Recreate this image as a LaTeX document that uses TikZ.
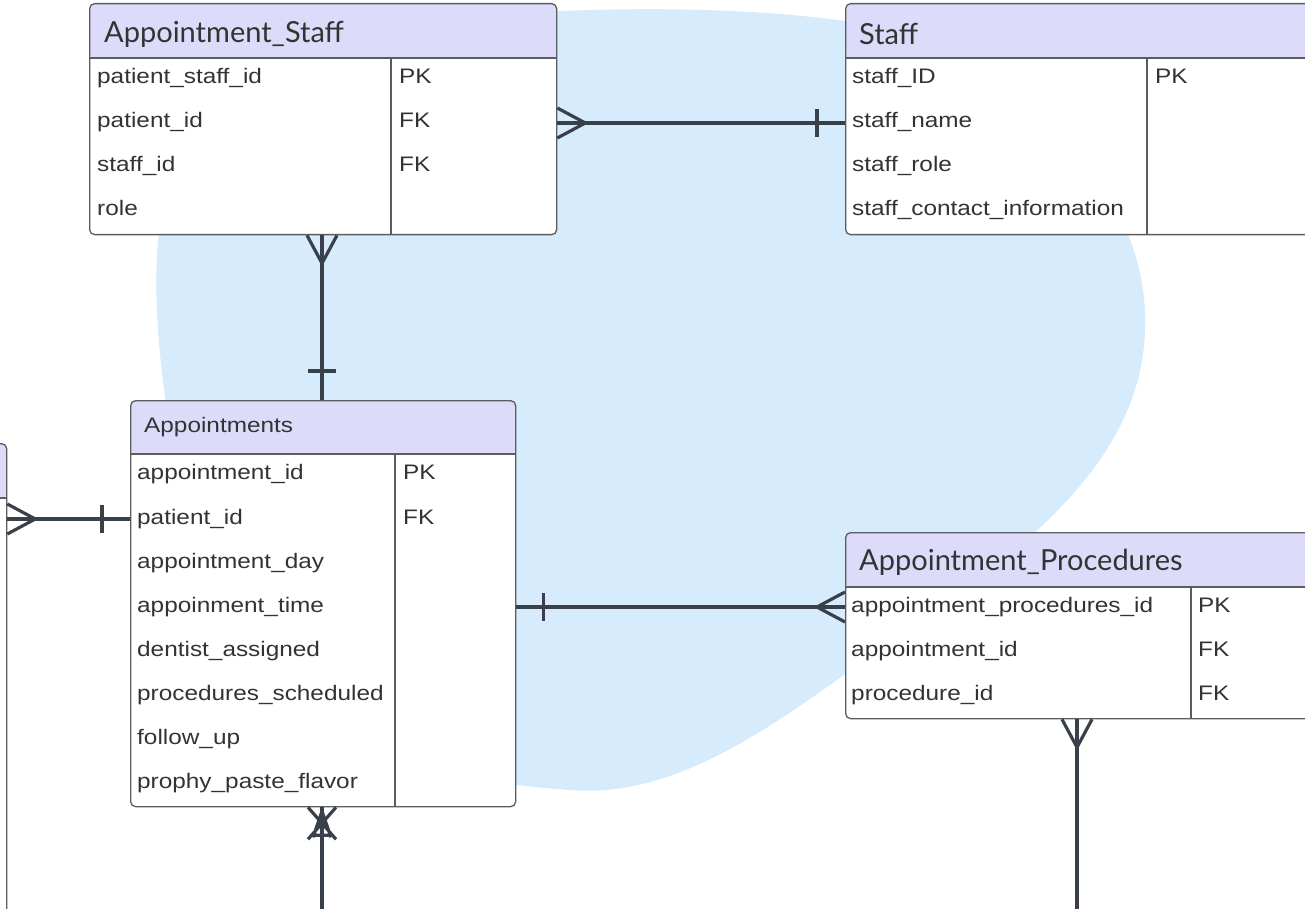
\documentclass[tikz,border=0pt]{standalone}
\usepackage{fontspec}
\setmainfont{Liberation Sans}[FakeStretch=1.16]
\newfontfamily\titlefont{Lato}
\usepackage{xcolor}
\usetikzlibrary{positioning,calc}

\definecolor{hdrfill}{HTML}{DCDCFA}
\definecolor{blobblue}{HTML}{D6EBFC}
\definecolor{connline}{HTML}{394049}
\definecolor{tblline}{HTML}{5C5C5C}
\definecolor{txtgray}{HTML}{333333}

\begin{document}
\begin{tikzpicture}[
    x=1pt, y=-1pt,
    tbl/.style={rectangle, draw=tblline, line width=1.3pt, rounded corners=5pt, fill=white, anchor=north west, inner sep=0pt,
        path picture={\fill[hdrfill] (path picture bounding box.north west) rectangle ([yshift=-#1]path picture bounding box.north east);}},
    tblline/.style={draw=tblline, line width=1.3pt},
    title/.style={anchor=west, inner sep=0pt, text=txtgray, font=\titlefont\fontsize{29}{34}\selectfont},
    field/.style={anchor=west, inner sep=0pt, text=txtgray, text height=15pt, text depth=4pt, font=\fontsize{21}{25}\selectfont},
    conn/.style={draw=connline, line width=3.2pt},
    many/.pic={\draw[conn] (0,-15) -- (28,0) -- (0,15);},
    one/.pic={\draw[conn] (0,-14) -- (0,14);},
    oneormany/.pic={\draw[conn] (-14,0) -- (14,32) (14,0) -- (-14,32) (-10,28) -- (10,28) (0,4) -- (-9,30) (0,4) -- (9,30);}
]
\useasboundingbox (0,0) rectangle (1305,909);
\clip (0,0) rectangle (1305,909);

% background blob
\fill[blobblue] (540,12) .. controls (700,4) and (820,14) .. (900,30)
    .. controls (1040,80) and (1150,200) .. (1145,330)
    .. controls (1142,450) and (1040,540) .. (920,620)
    .. controls (800,705) and (690,800) .. (570,790)
    .. controls (420,780) and (300,740) .. (230,620)
    .. controls (170,500) and (150,330) .. (158,240)
    .. controls (170,120) and (330,25) .. (540,12) -- cycle;

% Appointment_Staff
\node[tbl=55pt, minimum width=467pt, minimum height=231pt] (as) at (89,3) {};
\draw[tblline] ([yshift=-55pt]as.north west) -- ([yshift=-55pt]as.north east);
\draw[tblline] ([shift={(302pt,-55pt)}]as.north west) -- ([xshift=302pt]as.south west);
\node[title] (ast) at (104,34) {Appointment\_Staff};
\node[field] (asr1) at (97,78) {patient\_staff\_id};
\node[field] (asr2) at (97,122) {patient\_id};
\node[field] (asr3) at (97,166) {staff\_id};
\node[field] (asr4) at (97,210) {role};
\node[field] (ask1) at (399,78) {PK};
\node[field] (ask2) at (399,122) {FK};
\node[field] (ask3) at (399,166) {FK};

% Staff
\node[tbl=55pt, minimum width=500pt, minimum height=231pt] (stf) at (845,3) {};
\draw[tblline] ([yshift=-55pt]stf.north west) -- ([yshift=-55pt]stf.north east);
\draw[tblline] ([shift={(302pt,-55pt)}]stf.north west) -- ([xshift=302pt]stf.south west);
\node[title] (stft) at (859,34) {Staff};
\node[field] (stfr1) at (852,78) {staff\_ID};
\node[field] (stfr2) at (852,122) {staff\_name};
\node[field] (stfr3) at (852,166) {staff\_role};
\node[field] (stfr4) at (852,210) {staff\_contact\_information};
\node[field] (stfk1) at (1155,78) {PK};

% Appointments
\node[tbl=54pt, minimum width=385pt, minimum height=406pt] (apt) at (130,400) {};
\draw[tblline] ([yshift=-54pt]apt.north west) -- ([yshift=-54pt]apt.north east);
\draw[tblline] ([shift={(265pt,-54pt)}]apt.north west) -- ([xshift=265pt]apt.south west);
\node[field] (aptt) at (144,427) {Appointments};
\node[field] (aptr1) at (137,474) {appointment\_id};
\node[field] (aptr2) at (137,519) {patient\_id};
\node[field] (aptr3) at (137,563) {appointment\_day};
\node[field] (aptr4) at (137,607) {appoinment\_time};
\node[field] (aptr5) at (137,651) {dentist\_assigned};
\node[field] (aptr6) at (137,695) {procedures\_scheduled};
\node[field] (aptr7) at (137,739) {follow\_up};
\node[field] (aptr8) at (137,783) {prophy\_paste\_flavor};
\node[field] (aptk1) at (403,474) {PK};
\node[field] (aptk2) at (403,519) {FK};

% Appointment_Procedures
\node[tbl=55pt, minimum width=500pt, minimum height=186pt] (ap) at (845,532) {};
\draw[tblline] ([yshift=-55pt]ap.north west) -- ([yshift=-55pt]ap.north east);
\draw[tblline] ([shift={(346pt,-55pt)}]ap.north west) -- ([xshift=346pt]ap.south west);
\node[title] (apt2) at (859,562) {Appointment\_Procedures};
\node[field] (apr1) at (851,607) {appointment\_procedures\_id};
\node[field] (apr2) at (851,651) {appointment\_id};
\node[field] (apr3) at (851,695) {procedure\_id};
\node[field] (apk1) at (1198,607) {PK};
\node[field] (apk2) at (1198,651) {FK};
\node[field] (apk3) at (1198,695) {FK};

% table cut off at the left
\node[tbl=55pt, minimum width=206pt, minimum height=520pt] (lt) at (-200,443) {};
\draw[tblline] ([yshift=-55pt]lt.north west) -- ([yshift=-55pt]lt.north east);

% relations
\draw[conn] ([yshift=-1pt]as.east |- asr2) -- ([yshift=-1pt]stf.west |- asr2);
\pic at ([yshift=-1pt]as.east |- asr2) {many};
\pic at ([shift={(-28pt,-1pt)}]stf.west |- asr2) {one};

\draw[conn] (as.south -| 322,0) -- (apt.north -| 322,0);
\pic[rotate=-90] at (as.south -| 322,0) {many};
\pic[rotate=90] at ([yshift=29pt]apt.north -| 322,0) {one};

\draw[conn] (lt.east |- aptr2) -- (apt.west |- aptr2);
\pic at (lt.east |- aptr2) {many};
\pic at ([xshift=-28pt]apt.west |- aptr2) {one};

\draw[conn] (apt.east |- apr1) -- (ap.west |- apr1);
\pic[rotate=180] at (ap.west |- apr1) {many};
\pic at ([xshift=27pt]apt.east |- apr1) {one};

\coordinate (aptend) at (322,909);
\draw[conn] (apt.south -| aptend) -- (aptend);
\pic at (apt.south -| aptend) {oneormany};

\coordinate (apend) at (1077,909);
\draw[conn] (ap.south -| apend) -- (apend);
\pic[rotate=-90] at (ap.south -| apend) {many};

\end{tikzpicture}
\end{document}
